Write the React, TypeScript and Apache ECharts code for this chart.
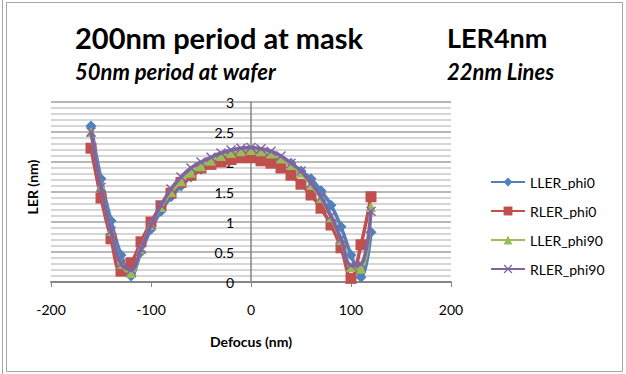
import React, { useEffect, useRef } from "react";
import * as echarts from "echarts";

const defocus = [-160, -150, -140, -130, -120, -110, -100, -90, -80, -70, -60, -50, -40, -30, -20, -10, 0, 10, 20, 30, 40, 50, 60, 70, 80, 90, 100, 110, 120];
const llerPhi0 = [2.6, 1.72, 1.02, 0.45, 0.1, 0.5, 0.88, 1.18, 1.42, 1.6, 1.75, 1.88, 1.98, 2.06, 2.12, 2.16, 2.18, 2.15, 2.1, 2.04, 1.98, 1.85, 1.72, 1.52, 1.28, 0.92, 0.45, 0.08, 0.83];
const rlerPhi0 = [2.23, 1.4, 0.72, 0.18, 0.32, 0.67, 1.0, 1.27, 1.48, 1.66, 1.78, 1.9, 1.96, 2.0, 2.04, 2.07, 2.07, 2.02, 1.98, 1.9, 1.78, 1.63, 1.45, 1.23, 0.95, 0.57, 0.06, 0.62, 1.42];
const llerPhi90 = [2.5, 1.6, 0.85, 0.3, 0.15, 0.55, 0.95, 1.25, 1.5, 1.68, 1.82, 1.93, 2.02, 2.1, 2.15, 2.18, 2.2, 2.18, 2.14, 2.06, 1.95, 1.82, 1.62, 1.4, 1.08, 0.7, 0.25, 0.22, 1.25];
const rlerPhi90 = [2.5, 1.58, 0.85, 0.3, 0.2, 0.55, 0.95, 1.28, 1.55, 1.75, 1.9, 2.0, 2.08, 2.15, 2.2, 2.23, 2.24, 2.22, 2.18, 2.1, 1.98, 1.85, 1.65, 1.42, 1.1, 0.72, 0.28, 0.3, 1.18];

const seriesNames = ["LLER_phi0", "RLER_phi0", "LLER_phi90", "RLER_phi90"];
const seriesValues = [llerPhi0, rlerPhi0, llerPhi90, rlerPhi90];
const colors = ["#4F81BD", "#C0504D", "#9BBB59", "#8064A2"];
const symbols = [
  "diamond",
  "rect",
  "triangle",
  "path://M0,1 L1,0 L5,4 L9,0 L10,1 L6,5 L10,9 L9,10 L5,6 L1,10 L0,9 L4,5 Z",
];
const symbolSizes = [11, 11, 10, 10];

const FONT = "Lato, 'Liberation Sans', sans-serif";

export default function App() {
  const ref = useRef<HTMLDivElement>(null);
  useEffect(() => {
    if (!ref.current) return;
    const chart = echarts.init(ref.current, undefined, { renderer: "svg" });
    const series = seriesNames.map((name, i) => ({
      name,
      type: "line",
      data: defocus.map((x, j) => [x, seriesValues[i][j]]),
      smooth: 0.4,
      symbol: symbols[i],
      symbolSize: symbolSizes[i],
      showAllSymbol: true,
      lineStyle: { color: colors[i], width: 3.5 },
      itemStyle: { color: colors[i] },
      z: 2 + i,
    }));
    chart.setOption({
      animation: false,
      backgroundColor: "#ffffff",
      textStyle: { fontFamily: FONT },
      title: [
        { text: "200nm period at mask", left: 75, top: 22, padding: 0, textStyle: { fontFamily: FONT, fontSize: 29, fontWeight: "bold", color: "#000", lineHeight: 30 } },
        { text: "LER4nm", left: 447, top: 22, padding: 0, textStyle: { fontFamily: FONT, fontSize: 27, fontWeight: "bold", color: "#000", lineHeight: 30 } },
        { text: "50nm period at wafer", left: 75, top: 59, padding: 0, textStyle: { fontFamily: FONT, fontSize: 22, fontWeight: "bold", fontStyle: "italic", color: "#000", lineHeight: 24 } },
        { text: "22nm Lines", left: 447, top: 59, padding: 0, textStyle: { fontFamily: FONT, fontSize: 22, fontWeight: "bold", fontStyle: "italic", color: "#000", lineHeight: 24 } },
      ],
      grid: { left: 51, right: 175, top: 102, bottom: 92, containLabel: false, outerBoundsMode: "none" },
      legend: {
        orient: "vertical",
        left: 490,
        top: 175,
        itemWidth: 34,
        itemHeight: 11,
        itemGap: 15,
        padding: 0,
        textStyle: { fontFamily: FONT, fontSize: 14, color: "#000" },
        data: seriesNames,
      },
      xAxis: {
        type: "value",
        min: -200,
        max: 200,
        interval: 100,
        name: "Defocus (nm)",
        nameLocation: "middle",
        nameGap: 52,
        nameTextStyle: { fontFamily: FONT, fontSize: 14, fontWeight: "bold", color: "#000" },
        axisLine: { onZero: false, lineStyle: { color: "#868686", width: 2 } },
        axisTick: { show: true, length: 5, lineStyle: { color: "#868686" } },
        axisLabel: { margin: 20, fontFamily: FONT, fontSize: 14, color: "#000" },
        splitLine: { show: false },
      },
      yAxis: {
        type: "value",
        position: "left",
        offset: -200,
        min: 0,
        max: 3,
        interval: 0.5,
        name: "LER (nm)",
        nameLocation: "middle",
        nameRotate: 90,
        nameGap: 212,
        nameTextStyle: { fontFamily: FONT, fontSize: 14, fontWeight: "bold", color: "#000", padding: [0, 0, 0, 10] },
        axisLine: { show: true, onZero: false, lineStyle: { color: "#868686", width: 1.5 } },
        axisTick: { show: false },
        axisLabel: { margin: 17, fontFamily: FONT, fontSize: 14, color: "#000" },
        splitLine: { show: true, lineStyle: { color: "#a0a0a0", width: 1.5 } },
        minorTick: { show: false, splitNumber: 5 },
        minorSplitLine: { show: true, lineStyle: { color: "#c8c8c8", width: 1.5 } },
      },
      graphic: [
        { type: "rect", shape: { x: 6.5, y: 2.5, width: 616, height: 369 }, style: { fill: "none", stroke: "#a6a6a6", lineWidth: 1 }, silent: true },
        { type: "line", shape: { x1: 2.5, y1: 0, x2: 2.5, y2: 374 }, style: { stroke: "#a6a6a6", lineWidth: 1 }, silent: true },
      ],
      series,
    });
    return () => chart.dispose();
  }, []);
  return (
    <div
      ref={ref}
      style={{ position: "fixed", left: 0, top: 0, width: 626, height: 374, background: "#fff" }}
    />
  );
}
